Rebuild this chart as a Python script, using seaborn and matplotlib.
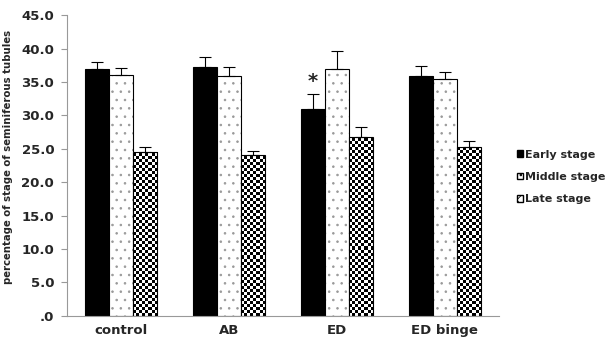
import numpy as np
import pandas as pd
import matplotlib
matplotlib.use("Agg")
import matplotlib.pyplot as plt
import seaborn as sns
from matplotlib.patches import Patch

categories = ["control", "AB", "ED", "ED binge"]
stages = ["Early stage", "Middle stage", "Late stage"]
early = [36.9, 37.3, 31.0, 35.9]
middle = [36.0, 35.9, 36.9, 35.5]
late = [24.5, 24.1, 26.8, 25.2]
early_err = [1.1, 1.5, 2.2, 1.5]
middle_err = [1.1, 1.4, 2.8, 1.0]
late_err = [0.8, 0.5, 1.5, 0.9]
yticks = [0, 5, 10, 15, 20, 25, 30, 35, 40, 45]

df = pd.DataFrame({
    "group": categories * 3,
    "stage": [stages[0]] * 4 + [stages[1]] * 4 + [stages[2]] * 4,
    "value": early + middle + late,
})
errs = [early_err, middle_err, late_err]

sns.set_style("white")
plt.rcParams["font.family"] = ["DejaVu Sans"]
plt.rcParams["hatch.linewidth"] = 0.6
plt.rcParams["hatch.color"] = "#777777"

fig = plt.figure(figsize=(6.12, 3.43), dpi=100)
ax = fig.add_axes([0.109, 0.079, 0.706, 0.877])

sns.barplot(data=df, x="group", y="value", hue="stage", order=categories,
            hue_order=stages, width=0.67, errorbar=None, ax=ax,
            palette=["black", "white", "white"], edgecolor="black",
            linewidth=0.8, legend=False)

for bar in ax.containers[1]:
    bar.set_hatch("..")
    bar._hatch_color = matplotlib.colors.to_rgba("#999999")

# checkerboard fill for late stage
fig.canvas.draw()
bb = ax.get_window_extent()
cell = 3.0
nx = int(bb.width / cell)
ny = int(bb.height / cell)
board = (np.add.outer(np.arange(ny), np.arange(nx)) % 2).astype(float)
for bar in ax.containers[2]:
    im = ax.imshow(board, cmap="gray", extent=[0, 1, 0, 1], transform=ax.transAxes,
                   interpolation="nearest", aspect="auto", zorder=bar.get_zorder() + 0.1)
    im.set_clip_path(bar)
    bar.set_facecolor("none")
    bar.set_zorder(bar.get_zorder() + 0.2)

# error bars (upper only)
for cont, err in zip(ax.containers, errs):
    xs = [b.get_x() + b.get_width() / 2 for b in cont]
    ys = [b.get_height() for b in cont]
    ax.errorbar(xs, ys, yerr=[np.zeros(len(err)), err], fmt="none",
                ecolor="black", elinewidth=0.8, capsize=4, capthick=0.8, zorder=5)

b = ax.containers[0][2]
ax.text(b.get_x() + b.get_width() / 2, b.get_height() + early_err[2] + 0.5, "*",
        ha="center", va="bottom", fontsize=14, fontweight="bold")

ax.set_xlim(-0.5, 3.5)
ax.set_ylim(0, 45)
ax.set_yticks(yticks)
ax.set_yticklabels([(f"{v:.1f}" if v != 0 else ".0") for v in yticks],
                   fontsize=9.5, fontweight="bold")
ax.set_xticks(range(4))
ax.set_xticklabels(categories, fontsize=9.5, fontweight="bold")
ax.set_xticks([-0.5, 0.5, 1.5, 2.5, 3.5], minor=True)
ax.tick_params(axis="x", which="major", length=0, pad=6)
ax.tick_params(axis="x", which="minor", length=5, color="#999999", width=0.8, direction="out")
ax.tick_params(axis="y", length=4, color="#999999", width=0.8, direction="out", left=True, pad=5)
ax.set_xlabel("")
ax.set_ylabel("percentage of stage of seminiferous tubules", fontsize=7.3,
              fontweight="bold")
ax.yaxis.set_label_coords(-0.125, 0.53)
for s in ["top", "right"]:
    ax.spines[s].set_visible(False)
for s in ["left", "bottom"]:
    ax.spines[s].set_color("#999999")
    ax.spines[s].set_linewidth(0.8)

handles = [Patch(facecolor="black", edgecolor="black"),
           Patch(facecolor="white", edgecolor="black", hatch=".."),
           Patch(facecolor="white", edgecolor="black", hatch="xx")]
fig.legend(handles, stages, loc="center left", bbox_to_anchor=(0.845, 0.484),
           frameon=False, handlelength=0.55, handleheight=0.55, handletextpad=0.2,
           labelspacing=1.1, borderaxespad=0, borderpad=0,
           prop={"weight": "bold", "size": 8})

fig.savefig("out.png", dpi=100)
